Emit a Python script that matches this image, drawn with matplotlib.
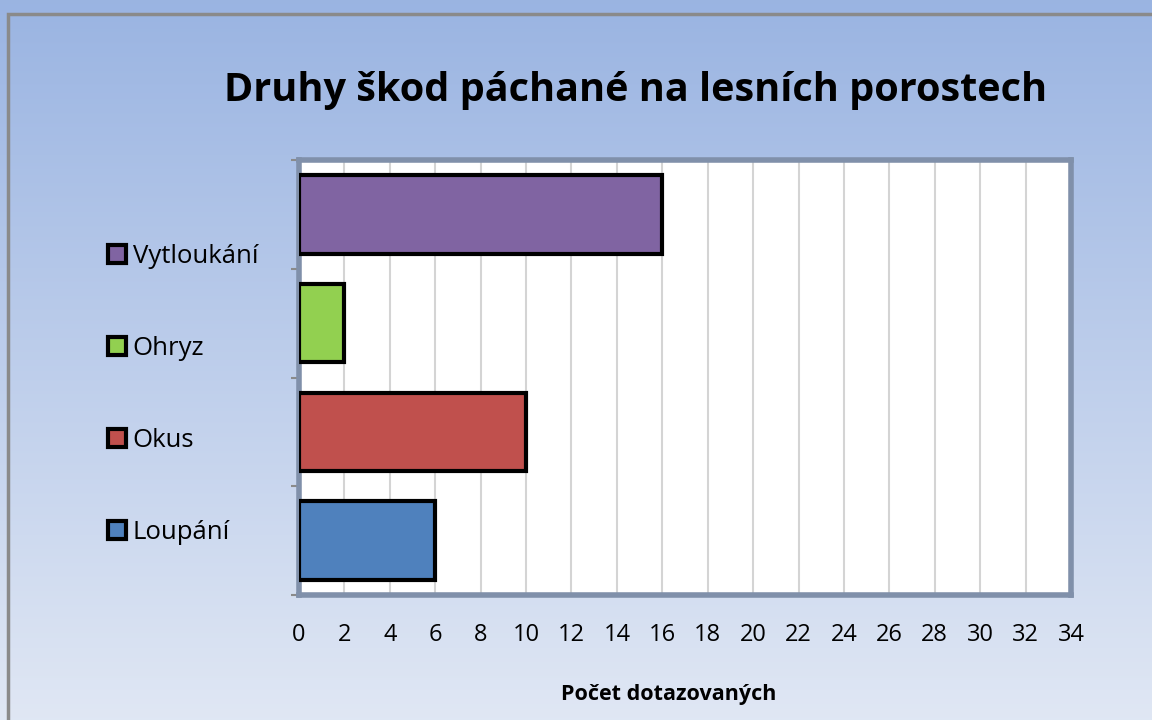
import numpy as np
import matplotlib.pyplot as plt
from matplotlib.patches import Patch, Rectangle

plt.rcParams['font.family'] = ['Open Sans', 'DejaVu Sans']

categories = ["Loupání", "Okus", "Ohryz", "Vytloukání"]
values = [6, 10, 2, 16]
colors = ["#4f81bd", "#c0504d", "#92d050", "#8064a2"]

fig = plt.figure(figsize=(11.52, 7.2), dpi=100)

# background gradient
bg = fig.add_axes([0, 0, 1, 1], zorder=-10)
grad = np.linspace(0, 1, 256)[:, None]
top = np.array([0.604, 0.706, 0.886])
bot = np.array([0.878, 0.906, 0.957])
img = top[None, None, :] * (1 - grad[:, :, None]) + bot[None, None, :] * grad[:, :, None]
bg.imshow(img, aspect="auto", extent=[0, 1, 0, 1], origin="upper")
bg.set_xlim(0, 1)
bg.set_ylim(0, 1)
bg.axis("off")
# outer frame (cut off right and bottom)
bg.add_patch(Rectangle((8 / 1152, -0.1), 1.2, 1 - 14 / 720 + 0.1, fill=False,
                       edgecolor="#8a8a8a", linewidth=2.5))

ax = fig.add_axes([299 / 1152, 1 - 595 / 720, (1071 - 299) / 1152, (595 - 160) / 720])
ax.set_facecolor("white")
y = np.arange(len(categories))
ax.barh(y, values, height=0.72, color=colors, edgecolor="black", linewidth=3, zorder=3)

ax.set_xlim(0, 34)
ax.set_ylim(-0.5, 3.5)
ax.set_xticks(np.arange(0, 35, 2))
ax.set_yticks(np.arange(-0.5, 4, 1))
ax.set_yticklabels([])
ax.grid(axis="x", color="#d4d4d4", linewidth=1.5, zorder=0)
ax.tick_params(axis="x", length=0, pad=20, labelsize=17)
ax.tick_params(axis="y", length=6, width=1.5, color="#8a8a8a", direction="out")
for s in ax.spines.values():
    s.set_color("#8090aa")
    s.set_linewidth(4)
ax.set_xlabel("Počet dotazovaných", fontsize=15.5, fontweight="bold")
ax.xaxis.set_label_coords(0.479, -0.205)

fig.text(0.552, 0.874, "Druhy škod páchané na lesních porostech", fontsize=28.5,
         fontweight="bold", ha="center", va="center")

handles = [Patch(facecolor=c, edgecolor="black", linewidth=3) for c in colors[::-1]]
fig.legend(handles, categories[::-1], loc="upper left", bbox_to_anchor=(0.074, 0.693),
           frameon=False, fontsize=18.5, handlelength=0.7, handleheight=0.7,
           handletextpad=0.25, labelspacing=2.6)

fig.savefig("out.png", dpi=100)
